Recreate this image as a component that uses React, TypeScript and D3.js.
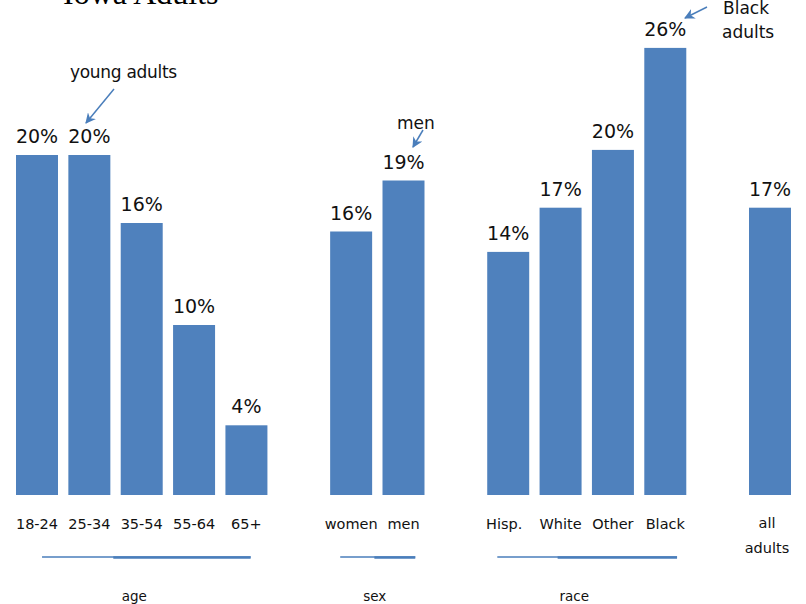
import React from "react";
import * as d3 from "d3";

const categories = ["18-24", "25-34", "35-54", "55-64", "65+", "_g1", "women", "men", "_g2", "Hisp.", "White", "Other", "Black", "_g3", "all adults"];
const values: (number | null)[] = [20, 20, 16, 10, 4.1, null, 15.5, 18.5, null, 14.3, 16.9, 20.3, 26.3, null, 16.9];
const valueLabels = ["20%", "20%", "16%", "10%", "4%", "", "16%", "19%", "", "14%", "17%", "20%", "26%", "", "17%"];
const groupNames = ["age", "sex", "race"];
const groupFirst = ["18-24", "women", "Hisp."];
const groupLast = ["65+", "men", "Black"];
const title = "Iowa Adults";

const W = 806, H = 604;
const BLUE = "#4F81BD";
const ARROW = "#4A7EBB";
const FONT = "'DejaVu Sans', Verdana, sans-serif";

export default function App() {
  const x = d3.scaleBand<string>().domain(categories).range([16, 791]).paddingInner(0.198).paddingOuter(0);
  const y = d3.scaleLinear().domain([0, 20]).range([495, 155]);
  const bw = x.bandwidth();

  const groupLines = groupNames.map((g, i) => {
    const a = x(groupFirst[i])!;
    const b = x(groupLast[i])!;
    const start = i === 0 ? a + bw * 0.62 : a + bw * 0.24;
    const end = i === 0 ? b + bw * 0.6 : b + bw * 0.78;
    const mid = i === 0 ? a + 52.36 + bw * 1.07 : a + 52.36 * (i === 1 ? 0.5 : 1) + bw * 0.43;
    const labelX = (start + end) / 2 + (i === 0 ? -12 : i === 1 ? -3 : -13);
    return { g, start, end, mid, labelX };
  });

  return (
    <svg width={W} height={H} style={{ position: "absolute", left: 0, top: 0, display: "block", background: "#fff" }}>
      <defs>
        <marker id="ah" viewBox="0 0 10 10" refX="9" refY="5" markerWidth="7" markerHeight="7" orient="auto-start-reverse">
          <path d="M0,0 L10,5 L0,10 L3,5 Z" fill={ARROW} />
        </marker>
      </defs>
      <rect width={W} height={H} fill="#fff" />
      <text x={63} y={4} fontFamily="'Liberation Serif', 'Times New Roman', serif" fontSize={32} fill="#000">{title}</text>

      {categories.map((c, i) => {
        const v = values[i];
        if (v == null) return null;
        const bx = x(c)!;
        return (
          <g key={c}>
            <rect x={bx} y={y(v)} width={bw} height={y(0) - y(v)} fill={BLUE} />
            <text x={bx + bw / 2} y={y(v) - 12} textAnchor="middle" fontFamily={FONT} fontSize={19} fill="#111">{valueLabels[i]}</text>
            {c === "all adults" ? (
              <text x={bx + bw / 2 - 3} y={528} textAnchor="middle" fontFamily={FONT} fontSize={14.5} fill="#111">
                <tspan x={bx + bw / 2 - 3} dy={0}>all</tspan>
                <tspan x={bx + bw / 2 - 3} dy={25}>adults</tspan>
              </text>
            ) : (
              <text x={bx + bw / 2 - (c === "Hisp." ? 4 : 0)} y={529} textAnchor="middle" fontFamily={FONT} fontSize={14.5} fill="#111">{c}</text>
            )}
          </g>
        );
      })}

      {groupLines.map((l) => (
        <g key={l.g}>
          <line x1={l.start} x2={l.end} y1={557} y2={557} stroke={ARROW} strokeWidth={1.5} />
          <line x1={l.mid} x2={l.end} y1={557.5} y2={557.5} stroke={ARROW} strokeWidth={2.5} />
          <text x={l.labelX} y={601} textAnchor="middle" fontFamily={FONT} fontSize={13.5} fill="#111">{l.g}</text>
        </g>
      ))}

      <text x={70} y={78} fontFamily={FONT} fontSize={17} fill="#111" letterSpacing={-0.3}>young adults</text>
      <line x1={114} y1={89} x2={86} y2={123} stroke={ARROW} strokeWidth={1.5} markerEnd="url(#ah)" />

      <text x={397} y={129} fontFamily={FONT} fontSize={17} fill="#111">men</text>
      <line x1={423} y1={130} x2={413} y2={147} stroke={ARROW} strokeWidth={1.5} markerEnd="url(#ah)" />

      <text x={723} y={14} fontFamily={FONT} fontSize={17} fill="#111">Black</text>
      <text x={722} y={38} fontFamily={FONT} fontSize={17} fill="#111">adults</text>
      <line x1={707} y1={7} x2={685} y2={18} stroke={ARROW} strokeWidth={1.5} markerEnd="url(#ah)" />
    </svg>
  );
}
